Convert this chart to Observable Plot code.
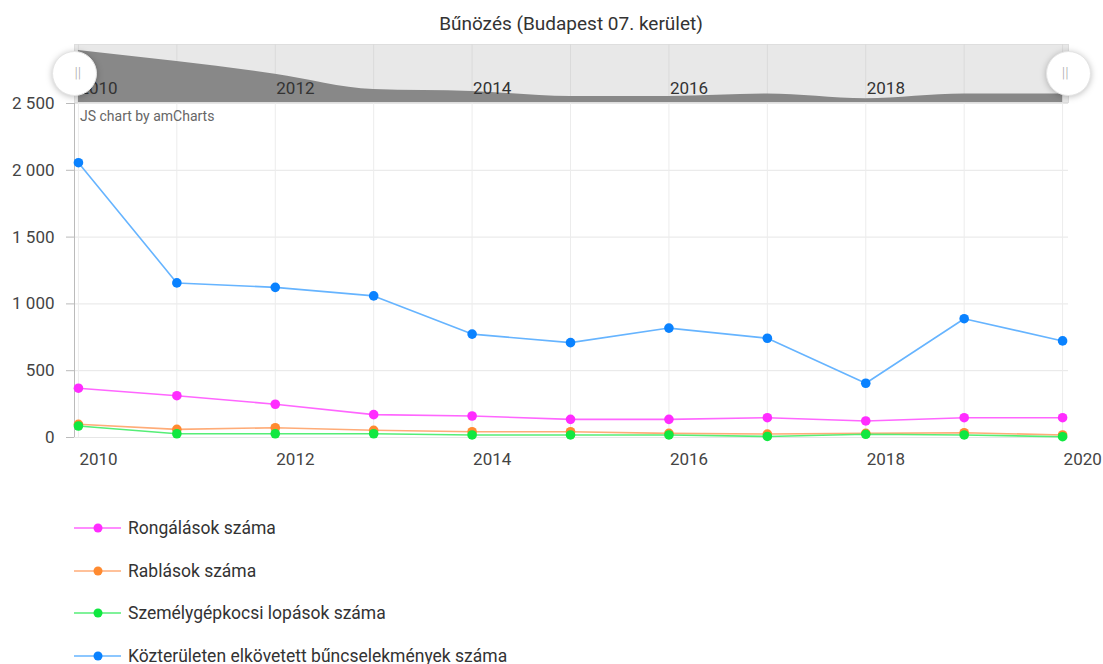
<!DOCTYPE html>
<html><head><meta charset="utf-8">
<script src="https://cdn.jsdelivr.net/npm/d3@7"></script>
<script src="https://cdn.jsdelivr.net/npm/@observablehq/plot@0.6"></script>
<style>
body{margin:0;background:#fff;font-family:Roboto,"Noto Sans",sans-serif;}
#root{position:relative;width:1103px;height:664px;overflow:hidden;background:#fff;}
#title{position:absolute;top:12px;left:74px;width:994px;text-align:center;font-size:19px;color:#333;}
#main,#scroll{position:absolute;left:0;top:0;}
#credit{position:absolute;left:80px;top:108px;font-size:14px;color:#666;}
#legend{position:absolute;left:74px;top:507px;}
.li{height:42.5px;display:flex;align-items:center;font-size:17.5px;color:#333;}
.li svg{margin-right:7px;}
</style></head><body>
<div id="root">
<div id="main"></div>
<div id="scroll"></div>
<div id="title">Bűnözés (Budapest 07. kerület)</div>
<div id="credit">JS chart by amCharts</div>
<div id="legend"></div>
</div>
<script>
const years = [2010, 2011, 2012, 2013, 2014, 2015, 2016, 2017, 2018, 2019, 2020];
const rongalasok = [369, 313, 249, 171, 161, 136, 136, 148, 124, 148, 148];
const rablasok = [99, 61, 73, 54, 43, 43, 31, 26, 31, 36, 19];
const szemelygepkocsi = [86, 28, 28, 28, 19, 19, 19, 8, 24, 19, 6];
const kozteruleti = [2057, 1157, 1124, 1060, 774, 710, 819, 743, 406, 889, 723];
const seriesNames = ["Rongálások száma", "Rablások száma", "Személygépkocsi lopások száma", "Közterületen elkövetett bűncselekmények száma"];
const seriesValues = [rongalasok, rablasok, szemelygepkocsi, kozteruleti];
const lineColors = ["#ff66ff", "#ffac78", "#55ee77", "#66b4ff"];
const dotColors = ["#ff2cff", "#ff8a30", "#10e840", "#0a82ff"];
const yTicks = [0, 500, 1000, 1500, 2000, 2500];
const xLabelYears = [2010, 2012, 2014, 2016, 2018, 2020];
const scrollLabelYears = [2010, 2012, 2014, 2016, 2018];
const xDomain = [2009.96, 2020.06];

const rows = [];
seriesNames.forEach((name, i) => years.forEach((yr, j) => rows.push({series: name, year: yr, value: seriesValues[i][j]})));

const fmt = d => d3.format(",")(d).replace(/,/g, " ");

const main = Plot.plot({
  width: 1103, height: 480,
  marginLeft: 74, marginRight: 35, marginTop: 103, marginBottom: 43,
  style: {background: "transparent", fontFamily: "Roboto, sans-serif", fontSize: "17px", color: "#444"},
  x: {domain: xDomain},
  y: {domain: [0, 2500]},
  marks: [
    Plot.gridY(yTicks, {stroke: "#e6e6e6", strokeOpacity: 1}),
    Plot.gridX(years, {stroke: "#ececec", strokeOpacity: 1}),
    Plot.ruleX([xDomain[0]], {stroke: "#bbb"}),
    Plot.axisY(yTicks, {tickSize: 8, tickPadding: 12, tickFormat: fmt, stroke: "#bbb", fill: "#444", label: null, fontSize: 17}),
    Plot.axisX(xLabelYears, {tickSize: 0, tickPadding: 15, tickFormat: d => String(d), textAnchor: "start", dx: 1, fill: "#444", label: null, fontSize: 17}),
    ...seriesNames.map((name, i) => Plot.line(rows.filter(r => r.series === name), {x: "year", y: "value", stroke: lineColors[i], strokeWidth: 1.6})),
    ...seriesNames.map((name, i) => Plot.dot(rows.filter(r => r.series === name), {x: "year", y: "value", fill: dotColors[i], r: 4.8}))
  ]
});
document.getElementById("main").appendChild(main);

const minP = d3.min(rongalasok), maxP = d3.max(rongalasok);
const scroll = Plot.plot({
  width: 1103, height: 110,
  marginLeft: 74, marginRight: 35, marginTop: 44, marginBottom: 8,
  style: {background: "transparent", fontFamily: "Roboto, sans-serif", fontSize: "16px"},
  x: {domain: xDomain, axis: null},
  y: {domain: [minP * 0.85, maxP], range: [102, 50], axis: null},
  marks: [
    Plot.frame({fill: "#e8e8e8", stroke: "#dedede"}),
    Plot.ruleX(years, {stroke: "#dadada"}),
    Plot.areaY(years.map((yr, j) => ({year: yr, value: rongalasok[j]})), {x: "year", y1: minP * 0.85, y2: "value", fill: "#888", curve: "monotone-x"}),
    Plot.text(scrollLabelYears, {x: d => d, frameAnchor: "bottom", dy: -9, dx: 1, textAnchor: "start", text: d => String(d), fill: "#333", fontSize: 17}),
    Plot.dot([0], {frameAnchor: "left", r: 22, fill: "#fff", stroke: "#e4e4e4", strokeWidth: 1}),
    Plot.dot([1], {frameAnchor: "right", r: 22, fill: "#fff", stroke: "#e4e4e4", strokeWidth: 1}),
    Plot.text([0], {frameAnchor: "left", text: () => "||", fill: "#aaa", fontSize: 15, fontWeight: 300}),
    Plot.text([1], {frameAnchor: "right", text: () => "||", fill: "#aaa", fontSize: 15, fontWeight: 300})
  ]
});
document.getElementById("scroll").appendChild(scroll);
d3.select(scroll).selectAll("g[aria-label=dot] circle").style("filter", "drop-shadow(0px 1px 3px rgba(0,0,0,0.25))");

const legend = document.getElementById("legend");
seriesNames.forEach((name, i) => {
  const item = document.createElement("div");
  item.className = "li";
  item.innerHTML = `<svg width="47" height="12"><line x1="0" x2="47" y1="6" y2="6" stroke="${lineColors[i]}" stroke-width="1.6"/><circle cx="24" cy="6" r="4.5" fill="${dotColors[i]}"/></svg><span>${name}</span>`;
  legend.appendChild(item);
});
</script>
</body></html>
